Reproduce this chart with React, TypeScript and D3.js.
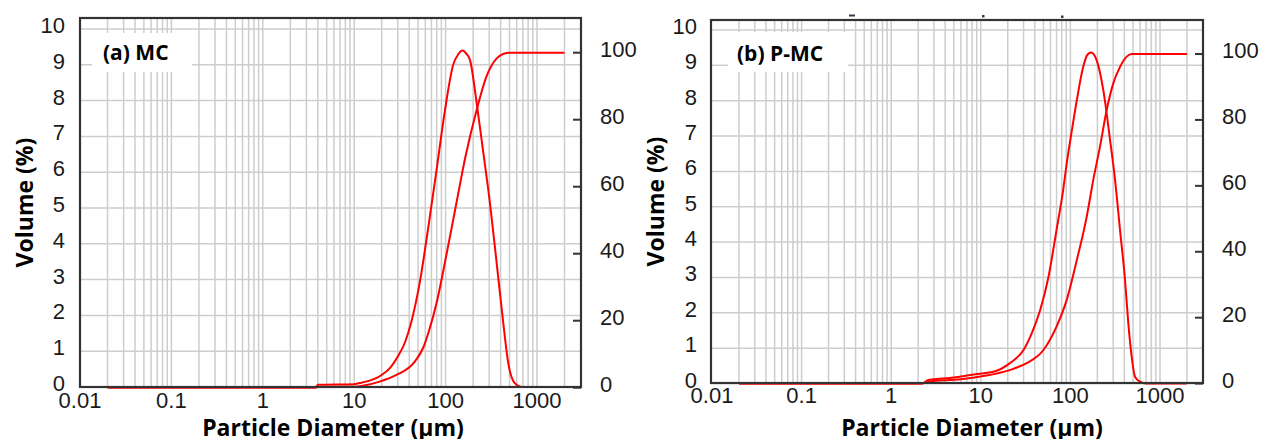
import React from 'react';
import * as d3 from 'd3';

// ---- tick labels ----
const xTickValues = [0.01, 0.1, 1, 10, 100, 1000];
const xTickLabels = ['0.01', '0.1', '1', '10', '100', '1000'];
const volTicks = [0, 1, 2, 3, 4, 5, 6, 7, 8, 9, 10];
const cumTicks = [0, 20, 40, 60, 80, 100];

// ---- (a) MC ----
const mcFreqSize = [0.02, 3.8, 4.0, 10, 12, 19, 25, 30, 36, 42, 52, 65, 80, 98, 121, 138, 152, 170, 185, 219, 259, 306, 362, 428, 485, 574, 680, 2000];
const mcFreqVol = [0, 0, 0.06, 0.08, 0.12, 0.3, 0.55, 0.85, 1.25, 1.8, 2.9, 4.5, 6.1, 7.7, 9.0, 9.3, 9.4, 9.3, 9.13, 7.92, 6.53, 5.13, 3.46, 1.78, 0.66, 0.1, 0, 0];
const mcCumSize = [0.02, 3.8, 4.0, 10, 12, 19, 29, 45, 57, 65, 80, 101, 129, 165, 219, 279, 362, 430, 504, 2000];
const mcCumVol = [0, 0, 0.2, 0.3, 0.5, 1.8, 3.8, 7.5, 12, 16.5, 25.5, 39, 54, 69, 83, 92.8, 98.3, 99.7, 100, 100];

// ---- (b) P-MC ----
const pmcFreqSize = [0.02, 2.2, 2.6, 5, 8, 13.8, 21, 30, 37, 46, 57, 70, 83, 91, 104, 118, 139, 155, 170, 196, 233, 277, 315, 358, 407, 443, 483, 526, 598, 700, 2000];
const pmcFreqVol = [0, 0, 0.1, 0.17, 0.25, 0.33, 0.57, 0.95, 1.42, 2.08, 3.02, 4.34, 5.47, 6.23, 7.17, 8.02, 8.96, 9.3, 9.36, 9.15, 8.3, 6.89, 5.76, 4.34, 2.93, 1.7, 0.76, 0.19, 0.05, 0, 0];
const pmcCumSize = [0.02, 2.2, 2.6, 6, 10.7, 21, 32.5, 50, 70, 91, 118, 152, 180, 214, 254, 301, 358, 425, 483, 2000];
const pmcCumVol = [0, 0, 0.6, 1.3, 2.3, 4.1, 6.2, 10.2, 17.3, 25.4, 37.5, 50.6, 61.8, 71.9, 83, 91.1, 96.1, 99.2, 100, 100];

// ---- layout (positions only) ----
const layoutA = {
  label: '(a) MC',
  left: 80, right: 581, top: 18, bottom: 387,
  x0: 80, x1000: 537,
  yV0: 387, yV10: 29,
  yC0: 387.7, yC100: 52.7,
  leftLabelX: 65, rightLabelX: 600, xLabelBase: 408,
  box: { x: 92, y: 33, w: 100, h: 39 }, labelX: 103, labelY: 60,
  yTitleX: 33, xTitleCX: 333,
  marks: [] as number[][],
};
const layoutB = {
  label: '(b) P-MC',
  left: 711, right: 1203, top: 20, bottom: 383,
  x0: 712, x1000: 1160,
  yV0: 383.5, yV10: 30,
  yC0: 383.6, yC100: 54,
  leftLabelX: 697, rightLabelX: 1222, xLabelBase: 403,
  box: { x: 728, y: 32, w: 120, h: 40 }, labelX: 737, labelY: 61,
  yTitleX: 664, xTitleCX: 972,
  marks: [[849, 14.5, 6, 2], [982, 15, 2.5, 2.5], [1061, 15.5, 2.5, 2.5]],
};

const tickFont = "'Liberation Sans', Arial, sans-serif";
const titleFont = "'Open Sans', sans-serif";

function zip(a: number[], b: number[]): [number, number][] {
  return a.map((v, i) => [v, b[i]]);
}

function Panel({ p, fx, fy, cx, cy }: any) {
  const x = d3.scaleLog().domain([0.01, 1000]).range([p.x0, p.x1000]);
  const yV = d3.scaleLinear().domain([0, 10]).range([p.yV0, p.yV10]);
  const yC = d3.scaleLinear().domain([0, 100]).range([p.yC0, p.yC100]);

  const grid: number[] = [];
  for (let k = -2; k <= 3; k++) {
    for (let m = 1; m <= 9; m++) {
      const v = m * Math.pow(10, k);
      const px = x(v);
      if (px > p.left + 1 && px < p.right - 2) grid.push(px);
    }
  }

  const lineV = d3.line<[number, number]>().x(d => x(d[0])).y(d => yV(d[1])).curve(d3.curveMonotoneX);
  const lineC = d3.line<[number, number]>().x(d => x(d[0])).y(d => yC(d[1])).curve(d3.curveMonotoneX);

  return (
    <g>
      {grid.map((gx, i) => (
        <line key={'vg' + i} x1={gx} x2={gx} y1={p.top} y2={p.bottom} stroke="#cdcdcd" strokeWidth={1.5} />
      ))}
      {volTicks.map(t => (
        <line key={'hg' + t} x1={p.left} x2={p.right} y1={yV(t)} y2={yV(t)} stroke="#cdcdcd" strokeWidth={1.5} />
      ))}
      <rect x={p.box.x} y={p.box.y} width={p.box.w} height={p.box.h} fill="#ffffff" />
      <text x={p.labelX} y={p.labelY} fontFamily={titleFont} fontWeight="bold" fontSize={21} fill="#000">{p.label}</text>
      <path d={lineV(zip(fx, fy)) || ''} fill="none" stroke="#ff0000" strokeWidth={2} />
      <path d={lineC(zip(cx, cy)) || ''} fill="none" stroke="#ff0000" strokeWidth={2} />
      <rect x={p.left} y={p.top} width={p.right - p.left} height={p.bottom - p.top} fill="none" stroke="#333" strokeWidth={2.2} />
      {cumTicks.map(t => (
        <line key={'rt' + t} x1={p.right - 8} x2={p.right} y1={yC(t)} y2={yC(t)} stroke="#333" strokeWidth={2} />
      ))}
      {volTicks.map(t => (
        <text key={'yl' + t} x={p.leftLabelX} y={yV(t) + 4} textAnchor="end" fontFamily={tickFont} fontSize={22} fill="#1a1a1a">{t}</text>
      ))}
      {cumTicks.map(t => (
        <text key={'yr' + t} x={p.rightLabelX} y={yC(t) + 4} textAnchor="start" fontFamily={tickFont} fontSize={22} fill="#1a1a1a">{t}</text>
      ))}
      {xTickValues.map((v, i) => (
        <text key={'xl' + i} x={x(v)} y={p.xLabelBase} textAnchor="middle" fontFamily={tickFont} fontSize={22} fill="#1a1a1a">{xTickLabels[i]}</text>
      ))}
      <text x={p.xTitleCX} y={436} textAnchor="middle" fontFamily={titleFont} fontWeight="bold" fontSize={23} fill="#000">Particle Diameter (µm)</text>
      <text transform={`translate(${p.yTitleX},${(p.top + p.bottom) / 2}) rotate(-90)`} textAnchor="middle" fontFamily={titleFont} fontWeight="bold" fontSize={23} fill="#000">Volume (%)</text>
      {p.marks.map((m: number[], i: number) => (
        <rect key={'mk' + i} x={m[0]} y={m[1]} width={m[2]} height={m[3]} fill="#3a3a50" />
      ))}
    </g>
  );
}

export default function App() {
  return (
    <svg width={1262} height={439} style={{ position: 'absolute', left: 0, top: 0, background: '#fff' }}>
      <rect x={0} y={0} width={1262} height={439} fill="#fff" />
      <Panel p={layoutA} fx={mcFreqSize} fy={mcFreqVol} cx={mcCumSize} cy={mcCumVol} />
      <Panel p={layoutB} fx={pmcFreqSize} fy={pmcFreqVol} cx={pmcCumSize} cy={pmcCumVol} />
    </svg>
  );
}
